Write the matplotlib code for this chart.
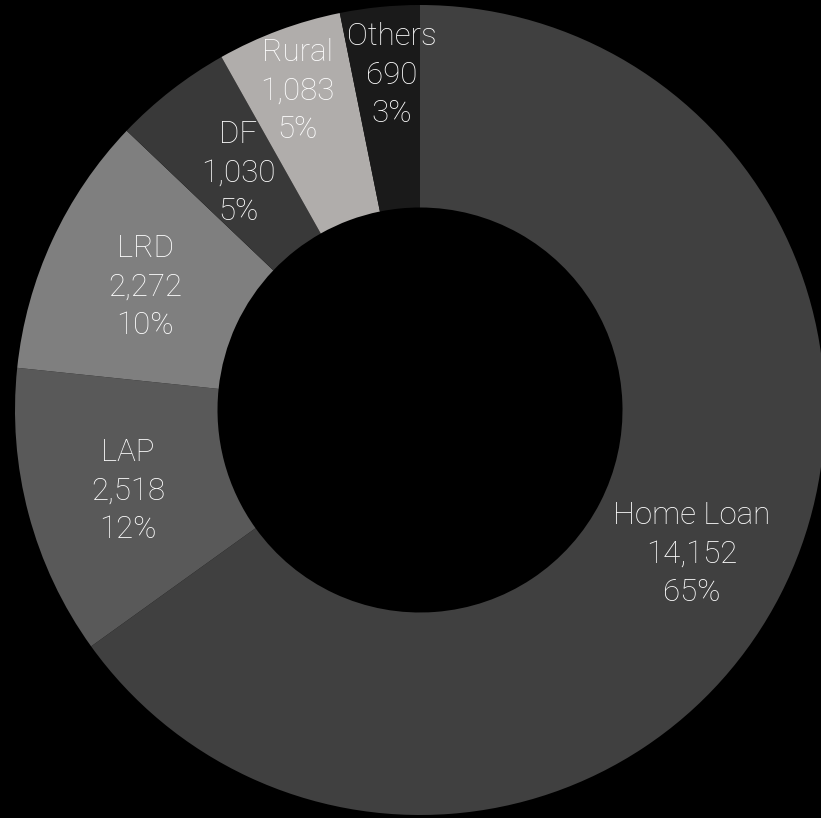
import numpy as np
import matplotlib
matplotlib.use('Agg')
import matplotlib.pyplot as plt

# data
labels = ['Home Loan', 'LAP', 'LRD', 'DF', 'Rural', 'Others']
values = [14152, 2518, 2272, 1030, 1083, 690]
pcts   = ['65%', '12%', '10%', '5%', '5%', '3%']
colors = ['#404040', '#595959', '#7f7f7f', '#393939', '#b0adab', '#1a1a1a']

# label centres (pixels in the 821x818 picture)
lab_px = [(692, 554), (128, 491), (145, 287), (238, 173), (297, 91), (392, 75)]

W, H = 821, 818
cx, cy, R = 420, 410, 405   # pie centre and outer radius, pixels

fig = plt.figure(figsize=(W/100, H/100), dpi=100, facecolor='black')
ax = fig.add_axes([0, 0, 1, 1])
ax.set_facecolor('black')

ax.pie(values, colors=colors, startangle=90, counterclock=False, radius=1.0,
       wedgeprops=dict(width=0.5, edgecolor='none'))

ax.set_xlim(-cx/R, (W-cx)/R)
ax.set_ylim(-(H-cy)/R, cy/R)
ax.set_aspect('auto')
ax.axis('off')

for lab, v, p, (px, py) in zip(labels, values, pcts, lab_px):
    x = (px-cx)/R
    y = (cy-py)/R
    ax.text(x, y, lab + '\n' + format(v, ',') + '\n' + p, ha='center', va='center',
            color='white', fontsize=22.5, family='Roboto', fontweight='light',
            linespacing=1.42)

fig.savefig('out.png', dpi=100, facecolor='black')
